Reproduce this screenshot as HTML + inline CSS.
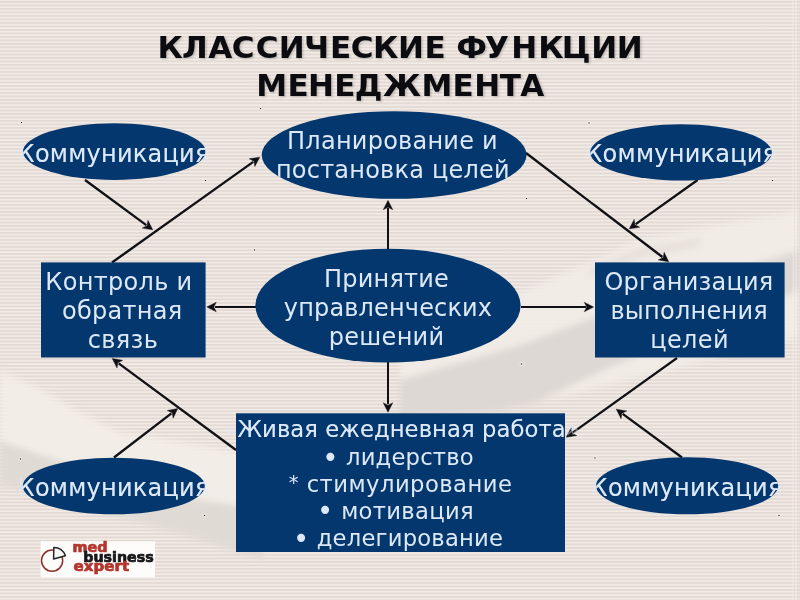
<!DOCTYPE html>
<html lang="ru">
<head>
<meta charset="utf-8">
<title>Классические функции менеджмента</title>
<style>
html,body{margin:0;padding:0;}
body{width:800px;height:600px;overflow:hidden;background:#ebe3de;font-family:"DejaVu Sans","Liberation Sans",sans-serif;}
#slide{position:relative;width:800px;height:600px;overflow:hidden;
 background:repeating-linear-gradient(to bottom,#f2eae5 0px,#f2eae5 0.55px,#e3dad5 1.4px,#e3dad5 2.4px,#f2eae5 3.25px,#f2eae5 3.5px);}
svg{position:absolute;left:0;top:0;display:block;}
.t{fill:#dde9f8;text-anchor:middle;font-family:"DejaVu Sans","Liberation Sans",sans-serif;}
.title{fill:#0c0c10;font-weight:bold;text-anchor:start;font-family:"DejaVu Sans","Liberation Sans",sans-serif;}
.sh{fill:#04376d;}
.ln{stroke:#101014;stroke-width:2.3;fill:none;shape-rendering:auto;}
.ah{fill:#101014;stroke:#101014;stroke-width:0.4;stroke-linejoin:miter;}
</style>
</head>
<body>
<div id="slide">
<svg width="800" height="600" viewBox="0 0 800 600">
 <defs>
  <filter id="ts" x="-5%" y="-30%" width="110%" height="170%"><feGaussianBlur stdDeviation="1.1"/></filter>
  <filter id="b3" x="-20%" y="-20%" width="140%" height="140%"><feGaussianBlur stdDeviation="3"/></filter>
 </defs>
 <g id="bgart">
  <g filter="url(#b3)">
   <!-- right arm of the faded handshake watermark -->
   <polygon points="800,211 700,228 640,240 590,262 515,295 480,315 400,350 400,420 500,411 537,402 700,362 800,337" fill="#f1ece7" opacity="0.94"/>
   <polygon points="800,250 700,280 600,315 520,345 400,380 400,420 500,411 537,402 600,372 700,330 800,290" fill="#dcd6d1" opacity="0.9"/>
   <polygon points="590,268 640,248 700,238 700,246 640,258 590,278" fill="#e2dcd7" opacity="0.7"/>
   <!-- left arm -->
   <polygon points="0,371 40,389 80,413 120,433 160,439 236,452 262,470 262,560 236,552 200,540 100,510 0,485" fill="#f2ede8" opacity="0.95"/>
   <polygon points="0,441 60,461 120,480 200,500 236,505 262,512 262,560 236,552 200,540 100,510 0,485" fill="#ded8d3" opacity="0.92"/>
  </g>
  <g id="edge-strip" opacity="0.5">
   <rect x="792.6" y="0" width="1.2" height="600" fill="#fbf6f2"/>
   <rect x="794" y="0" width="1" height="600" fill="#ddd3ce"/>
   <rect x="795.4" y="0" width="1.2" height="600" fill="#fbf6f2"/>
   <rect x="797" y="0" width="1" height="600" fill="#ddd3ce"/>
   <rect x="799" y="0" width="1" height="600" fill="#e0d7d2"/>
  </g>
 </g>

 <g class="title" font-size="31.0">
  <g filter="url(#ts)" opacity="0.22"><text x="158.85 183.38 209.65 233.26 257.06 280.1 305.45 331.35 352.06 374.3 399.3 425.85 442.05 457.76 486.31 512.55 539.6 563.15 592.55 618.25" y="59.4">КЛАССИЧЕСКИЕ ФУНКЦИИ</text><text x="257.6 288.85 309.45 335.75 356.09 384.45 422.95 453.85 475.75 501.15 521.65" y="97.2">МЕНЕДЖМЕНТА</text></g>
  <text x="157.45 181.98 208.25 231.86 255.66 278.7 304.05 329.95 350.66 372.9 397.9 424.45 440.65 456.36 484.91 511.15 538.2 561.75 591.15 616.85" y="57.8">КЛАССИЧЕСКИЕ ФУНКЦИИ</text>
  <text x="256.2 287.45 308.05 334.35 354.69 383.05 421.55 452.45 474.35 499.75 520.25" y="95.6">МЕНЕДЖМЕНТА</text>
 </g>
 <g class="ln">
  <line x1="85" y1="180" x2="146.31" y2="225.08"/>
  <path class="ah" transform="translate(152.76,229.82) rotate(36.33)" d="M0,0 L-9.5,-4.8 L-7,0 L-9.5,4.8 Z"/>
  <line x1="112" y1="262.5" x2="253.24" y2="161.82"/>
  <path class="ah" transform="translate(259.76,157.17) rotate(-35.48)" d="M0,0 L-9.5,-4.8 L-7,0 L-9.5,4.8 Z"/>
  <line x1="526" y1="153" x2="662.40" y2="256.97"/>
  <path class="ah" transform="translate(668.76,261.82) rotate(37.32)" d="M0,0 L-9.5,-4.8 L-7,0 L-9.5,4.8 Z"/>
  <line x1="697.6" y1="180" x2="635.75" y2="224.18"/>
  <path class="ah" transform="translate(629.24,228.83) rotate(144.46)" d="M0,0 L-9.5,-4.8 L-7,0 L-9.5,4.8 Z"/>
  <line x1="388" y1="249" x2="388.00" y2="208.30" stroke-width="2" shape-rendering="crispEdges"/>
  <path class="ah" transform="translate(388.00,200.30) rotate(-90.00)" d="M0,0 L-9.5,-4.8 L-7,0 L-9.5,4.8 Z"/>
  <line x1="256" y1="307" x2="214.80" y2="307.00" stroke-width="2" shape-rendering="crispEdges"/>
  <path class="ah" transform="translate(206.80,307.00) rotate(180.00)" d="M0,0 L-9.5,-4.8 L-7,0 L-9.5,4.8 Z"/>
  <line x1="520.5" y1="307" x2="585.70" y2="307.00" stroke-width="2" shape-rendering="crispEdges"/>
  <path class="ah" transform="translate(593.70,307.00) rotate(0.00)" d="M0,0 L-9.5,-4.8 L-7,0 L-9.5,4.8 Z"/>
  <line x1="388" y1="362" x2="388.00" y2="404.20" stroke-width="2" shape-rendering="crispEdges"/>
  <path class="ah" transform="translate(388.00,412.20) rotate(90.00)" d="M0,0 L-9.5,-4.8 L-7,0 L-9.5,4.8 Z"/>
  <line x1="236" y1="450" x2="118.68" y2="363.33"/>
  <path class="ah" transform="translate(112.24,358.58) rotate(-143.55)" d="M0,0 L-9.5,-4.8 L-7,0 L-9.5,4.8 Z"/>
  <line x1="114" y1="457.5" x2="171.41" y2="413.45"/>
  <path class="ah" transform="translate(177.76,408.58) rotate(-37.49)" d="M0,0 L-9.5,-4.8 L-7,0 L-9.5,4.8 Z"/>
  <line x1="677" y1="358" x2="572.75" y2="432.57"/>
  <path class="ah" transform="translate(566.24,437.23) rotate(144.42)" d="M0,0 L-9.5,-4.8 L-7,0 L-9.5,4.8 Z"/>
  <line x1="682" y1="457.5" x2="622.69" y2="413.91"/>
  <path class="ah" transform="translate(616.24,409.18) rotate(-143.69)" d="M0,0 L-9.5,-4.8 L-7,0 L-9.5,4.8 Z"/>
 </g>
 <g class="sh">
  <ellipse cx="114.3" cy="151.6" rx="91.3" ry="28.3"/>
  <ellipse cx="394.1" cy="155" rx="132.4" ry="43.8"/>
  <ellipse cx="681" cy="152.4" rx="90.8" ry="28.1"/>
  <ellipse cx="388" cy="305.6" rx="132.6" ry="56.9"/>
  <ellipse cx="113.8" cy="486" rx="91" ry="28.3"/>
  <ellipse cx="687.1" cy="485.8" rx="91.1" ry="28.5"/>
  <rect x="41" y="262.4" width="164.6" height="95.1"/>
  <rect x="595" y="262.4" width="189.6" height="95.1"/>
  <rect x="236" y="413.3" width="329" height="138.7"/>
 </g>
 <clipPath id="cp">
  <ellipse cx="114.3" cy="151.6" rx="91.3" ry="28.3"/>
  <ellipse cx="394.1" cy="155" rx="132.4" ry="43.8"/>
  <ellipse cx="681" cy="152.4" rx="90.8" ry="28.1"/>
  <ellipse cx="388" cy="305.6" rx="132.6" ry="56.9"/>
  <ellipse cx="113.8" cy="486" rx="91" ry="28.3"/>
  <ellipse cx="687.1" cy="485.8" rx="91.1" ry="28.5"/>
  <rect x="41" y="262.4" width="164.6" height="95.1"/>
  <rect x="595" y="262.4" width="189.6" height="95.1"/>
  <rect x="236" y="413.3" width="329" height="138.7"/>
 </clipPath>
 <g class="t" opacity="0.45">
  <text x="113.6" y="161.7" font-size="24" letter-spacing="0.25">Коммуникация</text>
  <text x="681.3" y="161.7" font-size="24" letter-spacing="0.25">Коммуникация</text>
  <text x="113.6" y="495.8" font-size="24" letter-spacing="0.25">Коммуникация</text>
  <text x="686.6" y="495.8" font-size="24" letter-spacing="0.25">Коммуникация</text>
  <text x="401.66" y="436.5" font-size="22.7" letter-spacing="0.078">«Живая ежедневная работа»</text>
 </g>
 <g class="t" clip-path="url(#cp)">
  <text x="113.6" y="161.7" font-size="24" letter-spacing="0.25">Коммуникация</text>
  <text x="681.3" y="161.7" font-size="24" letter-spacing="0.25">Коммуникация</text>
  <text x="113.6" y="495.8" font-size="24" letter-spacing="0.25">Коммуникация</text>
  <text x="686.6" y="495.8" font-size="24" letter-spacing="0.25">Коммуникация</text>
  <text x="392.5" y="149.3" font-size="24" letter-spacing="0.243">Планирование и</text>
  <text x="392.9" y="178.3" font-size="24" letter-spacing="0.218">постановка целей</text>
  <text x="386.6" y="287" font-size="24" letter-spacing="0.2">Принятие</text>
  <text x="388.0" y="316" font-size="24" letter-spacing="0.157">управленческих</text>
  <text x="386.6" y="344.5" font-size="24" letter-spacing="0.27">решений</text>
  <text x="118.9" y="289.6" font-size="24" letter-spacing="0.324">Контроль и</text>
  <text x="122.3" y="319" font-size="24" letter-spacing="0.28">обратная</text>
  <text x="123.0" y="348" font-size="24" letter-spacing="0.34">связь</text>
  <text x="689.0" y="289.6" font-size="24" letter-spacing="0.228">Организация</text>
  <text x="689.2" y="319" font-size="24" letter-spacing="0.262">выполнения</text>
  <text x="689.6" y="348" font-size="24" letter-spacing="0.375">целей</text>
  <text x="401.66" y="436.5" font-size="22.7" letter-spacing="0.078">«Живая ежедневная работа»</text>
  <text x="398.0" y="464.8" font-size="22.7" letter-spacing="0.156"><tspan font-size="27.5" dy="1.8">•</tspan><tspan dy="-1.8"> лидерство</tspan></text>
  <text x="400.6" y="491.6" font-size="22.7" letter-spacing="0.455"><tspan font-size="19.5" dy="-2.6">*</tspan><tspan dy="2.6"> стимулирование</tspan></text>
  <text x="395.5" y="518.6" font-size="22.7" letter-spacing="0.296"><tspan font-size="27.5" dy="1.8">•</tspan><tspan dy="-1.8"> мотивация</tspan></text>
  <text x="398.0" y="546" font-size="22.7" letter-spacing="0.19"><tspan font-size="27.5" dy="1.8">•</tspan><tspan dy="-1.8"> делегирование</tspan></text>
 </g>
 <g id="dots">
  <circle cx="21.5" cy="122.5" r="2" fill="#fbf7f3" opacity="0.6"/><rect x="20.9" y="121.9" width="1.2" height="1.2" fill="#222"/>
  <circle cx="205.5" cy="180.5" r="2" fill="#fbf7f3" opacity="0.6"/><rect x="204.9" y="179.9" width="1.2" height="1.2" fill="#222"/>
  <circle cx="260.5" cy="108.5" r="2" fill="#fbf7f3" opacity="0.6"/><rect x="259.9" y="107.9" width="1.2" height="1.2" fill="#222"/>
  <circle cx="526.5" cy="198.5" r="2" fill="#fbf7f3" opacity="0.6"/><rect x="525.9" y="197.9" width="1.2" height="1.2" fill="#222"/>
  <circle cx="589" cy="123" r="2" fill="#fbf7f3" opacity="0.6"/><rect x="588.4" y="122.4" width="1.2" height="1.2" fill="#222"/>
  <circle cx="772.5" cy="180.5" r="2" fill="#fbf7f3" opacity="0.6"/><rect x="771.9" y="179.9" width="1.2" height="1.2" fill="#222"/>
  <circle cx="254.5" cy="250" r="2" fill="#fbf7f3" opacity="0.6"/><rect x="253.9" y="249.4" width="1.2" height="1.2" fill="#222"/>
  <circle cx="521.5" cy="364" r="2" fill="#fbf7f3" opacity="0.6"/><rect x="520.9" y="363.4" width="1.2" height="1.2" fill="#222"/>
  <circle cx="20.5" cy="459" r="2" fill="#fbf7f3" opacity="0.6"/><rect x="19.9" y="458.4" width="1.2" height="1.2" fill="#222"/>
  <circle cx="204.5" cy="515.5" r="2" fill="#fbf7f3" opacity="0.6"/><rect x="203.9" y="514.9" width="1.2" height="1.2" fill="#222"/>
  <circle cx="595" cy="458" r="2" fill="#fbf7f3" opacity="0.6"/><rect x="594.4" y="457.4" width="1.2" height="1.2" fill="#222"/>
  <circle cx="779" cy="515.5" r="2" fill="#fbf7f3" opacity="0.6"/><rect x="778.4" y="514.9" width="1.2" height="1.2" fill="#222"/>
 </g>
 <g id="logo">
  <rect x="40.6" y="541.3" width="114.4" height="36" fill="#fdfcfb"/>
  <circle cx="52.1" cy="560.6" r="10.6" fill="none" stroke="#8a3230" stroke-width="1.5"/>
  <path d="M53.6,559 L53.8,547.4 A11.6,11.6 0 0 1 65.4,555.8 Z" fill="#f7f9f7" stroke="#26262a" stroke-width="1.5" stroke-linejoin="round"/>
  <g font-family='"DejaVu Sans","Liberation Sans",sans-serif' font-weight="bold" font-size="13.6" stroke-width="0.7" stroke-linejoin="round">
   <text x="72.6" y="551.9" fill="#b3362e" stroke="#b3362e" textLength="35" lengthAdjust="spacingAndGlyphs">med</text>
   <text x="83.2" y="562.3" fill="#17171a" stroke="#17171a" textLength="70.5" lengthAdjust="spacingAndGlyphs">business</text>
   <text x="73.6" y="571.4" fill="#b3362e" stroke="#b3362e" textLength="55.5" lengthAdjust="spacingAndGlyphs">expert</text>
  </g>
 </g>

</svg>
</div>
</body>
</html>
